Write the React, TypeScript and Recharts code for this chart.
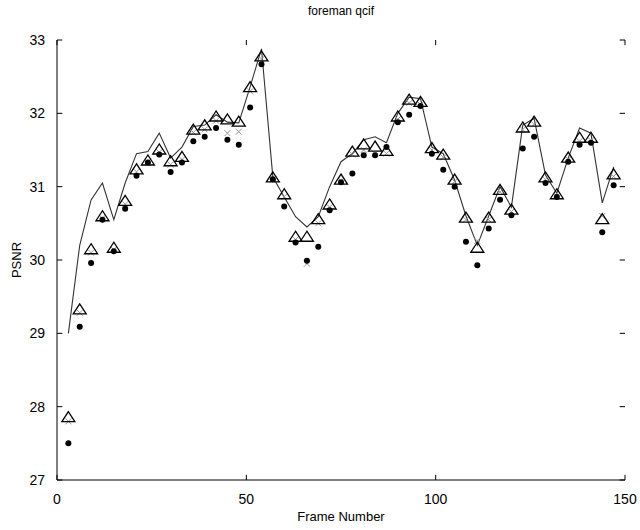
import { ComposedChart, Line, Scatter, XAxis, YAxis, ReferenceLine } from "recharts";

// frames sampled every 3rd frame
const frames = [
  3, 6, 9, 12, 15, 18, 21, 24, 27, 30, 33, 36, 39, 42, 45, 48, 51, 54, 57, 60, 63, 66, 69, 72, 75,
  78, 81, 84, 87, 90, 93, 96, 99, 102, 105, 108, 111, 114, 117, 120, 123, 126, 129, 132, 135, 138,
  141, 144, 147,
];

// solid line (no markers)
const lineVals = [
  29.0, 30.2, 30.82, 31.05, 30.55, 31.05, 31.45, 31.48, 31.73, 31.39, 31.54, 31.82, 31.84, 31.98,
  31.88, 31.87, 32.36, 32.88, 31.13, 30.86, 30.59, 30.45, 30.59, 31.0, 31.34, 31.45, 31.64, 31.68,
  31.6, 32.0, 32.22, 32.2, 31.54, 31.45, 31.09, 30.6, 30.2, 30.6, 31.0, 30.72, 31.84, 31.93, 31.16,
  30.91, 31.39, 31.8, 31.73, 30.78, 31.27,
];

// open triangles
const triVals = [
  27.85, 29.32, 30.14, 30.59, 30.16, 30.8, 31.23, 31.35, 31.5, 31.34, 31.4, 31.77, 31.83, 31.95,
  31.91, 31.88, 32.35, 32.77, 31.12, 30.89, 30.31, 30.31, 30.55, 30.75, 31.09, 31.47, 31.57, 31.54,
  31.48, 31.95, 32.18, 32.15, 31.52, 31.43, 31.09, 30.57, 30.16, 30.57, 30.95, 30.68, 31.8, 31.88,
  31.12, 30.89, 31.39, 31.66, 31.66, 30.55, 31.16,
];

// filled dots
const dotVals = [
  27.5, 29.09, 29.96, 30.55, 30.12, 30.7, 31.15, 31.33, 31.44, 31.2, 31.33, 31.62, 31.68, 31.8,
  31.64, 31.57, 32.08, 32.67, 31.1, 30.73, 30.24, 29.99, 30.18, 30.68, 31.06, 31.18, 31.43, 31.43,
  31.54, 31.88, 31.98, 32.1, 31.45, 31.23, 31.0, 30.25, 29.93, 30.43, 30.82, 30.61, 31.52, 31.68,
  31.05, 30.86, 31.34, 31.57, 31.6, 30.38, 31.02,
];

// light x markers (mostly hidden under the triangles)
const crossVals = [
  27.8, 29.28, 30.1, 30.57, 30.14, 30.76, 31.2, 31.34, 31.47, 31.3, 31.37, 31.74, 31.78, 31.9,
  31.73, 31.75, 32.3, 32.74, 31.1, 30.86, 30.28, 29.95, 30.5, 30.72, 31.08, 31.44, 31.5, 31.45,
  31.45, 31.92, 32.14, 32.12, 31.5, 31.4, 31.07, 30.55, 30.26, 30.55, 30.93, 30.66, 31.78, 31.85,
  31.1, 30.87, 31.37, 31.62, 31.63, 30.6, 31.14,
];

const xTicks = [0, 50, 100, 150];
const yTicks = [27, 28, 29, 30, 31, 32, 33];

const data = frames.map((f, i) => ({
  frame: f,
  line: lineVals[i],
  tri: triVals[i],
  dot: dotVals[i],
  cross: crossVals[i],
}));

const font = "'Liberation Sans', Arial, sans-serif";

const Triangle = (p: any) => {
  const { cx, cy } = p;
  if (cx == null || cy == null) return null;
  return (
    <path
      d={`M${cx},${cy - 6} L${cx - 6.5},${cy + 4} L${cx + 6.5},${cy + 4} Z`}
      fill="none"
      stroke="#000"
      strokeWidth={1.3}
    />
  );
};

const Dot = (p: any) => {
  const { cx, cy } = p;
  if (cx == null || cy == null) return null;
  return <circle cx={cx} cy={cy} r={3} fill="#000" />;
};

const Cross = (p: any) => {
  const { cx, cy } = p;
  if (cx == null || cy == null) return null;
  return (
    <path
      d={`M${cx - 3},${cy - 3} L${cx + 3},${cy + 3} M${cx - 3},${cy + 3} L${cx + 3},${cy - 3}`}
      stroke="#999"
      strokeWidth={1}
    />
  );
};

const tickStyle = { fontSize: 14, fontFamily: font, fill: "#000" };

export default function App() {
  return (
    <div style={{ width: 640, height: 530, position: "relative", background: "#fff" }}>
      <style>{"body{margin:0}"}</style>
      <ComposedChart
        width={640}
        height={530}
        data={data}
        margin={{ top: 40, right: 15, bottom: 0, left: 0 }}
      >
        <XAxis
          xAxisId="b"
          dataKey="frame"
          type="number"
          domain={[0, 150]}
          ticks={xTicks}
          tickLine={false}
          axisLine={{ stroke: "#000" }}
          tick={tickStyle}
          tickMargin={8}
          height={50}
        />
        <XAxis
          xAxisId="t"
          dataKey="frame"
          type="number"
          domain={[0, 150]}
          orientation="top"
          ticks={xTicks}
          tick={false}
          tickLine={false}
          axisLine={{ stroke: "#000" }}
          height={0}
        />
        <YAxis
          yAxisId="l"
          type="number"
          domain={[27, 33]}
          ticks={yTicks}
          tickLine={false}
          axisLine={{ stroke: "#000" }}
          tick={tickStyle}
          tickMargin={6}
          width={57}
        />
        <YAxis
          yAxisId="r"
          type="number"
          domain={[27, 33]}
          orientation="right"
          ticks={yTicks}
          tick={false}
          tickLine={false}
          axisLine={{ stroke: "#000" }}
          width={0}
        />
        {/* inward tick marks, matlab style */}
        {yTicks.map((t) => (
          <ReferenceLine
            key={"yl" + t}
            xAxisId="b"
            yAxisId="l"
            segment={[{ x: 0, y: t }, { x: 1.4, y: t }]}
            stroke="#000"
          />
        ))}
        {yTicks.map((t) => (
          <ReferenceLine
            key={"yr" + t}
            xAxisId="b"
            yAxisId="l"
            segment={[{ x: 148.6, y: t }, { x: 150, y: t }]}
            stroke="#000"
          />
        ))}
        {xTicks.map((t) => (
          <ReferenceLine
            key={"xb" + t}
            xAxisId="b"
            yAxisId="l"
            segment={[{ x: t, y: 27 }, { x: t, y: 27.07 }]}
            stroke="#000"
          />
        ))}
        {xTicks.map((t) => (
          <ReferenceLine
            key={"xt" + t}
            xAxisId="b"
            yAxisId="l"
            segment={[{ x: t, y: 32.93 }, { x: t, y: 33 }]}
            stroke="#000"
          />
        ))}
        <Line
          xAxisId="b"
          yAxisId="l"
          dataKey="line"
          type="linear"
          stroke="#333"
          strokeWidth={1.1}
          dot={false}
          isAnimationActive={false}
        />
        <Scatter xAxisId="b" yAxisId="l" dataKey="cross" shape={Cross} isAnimationActive={false} />
        <Scatter xAxisId="b" yAxisId="l" dataKey="dot" shape={Dot} isAnimationActive={false} />
        <Scatter xAxisId="b" yAxisId="l" dataKey="tri" shape={Triangle} isAnimationActive={false} />
      </ComposedChart>
      <div
        style={{
          position: "absolute",
          top: 4,
          left: 57,
          width: 568,
          textAlign: "center",
          fontFamily: font,
          fontSize: 12,
        }}
      >
        foreman qcif
      </div>
      <div
        style={{
          position: "absolute",
          top: 509,
          left: 57,
          width: 568,
          textAlign: "center",
          fontFamily: font,
          fontSize: 13,
        }}
      >
        Frame Number
      </div>
      <div
        style={{
          position: "absolute",
          left: 16,
          top: 260,
          transform: "translate(-50%, -50%) rotate(-90deg)",
          fontFamily: font,
          fontSize: 13,
        }}
      >
        PSNR
      </div>
    </div>
  );
}
